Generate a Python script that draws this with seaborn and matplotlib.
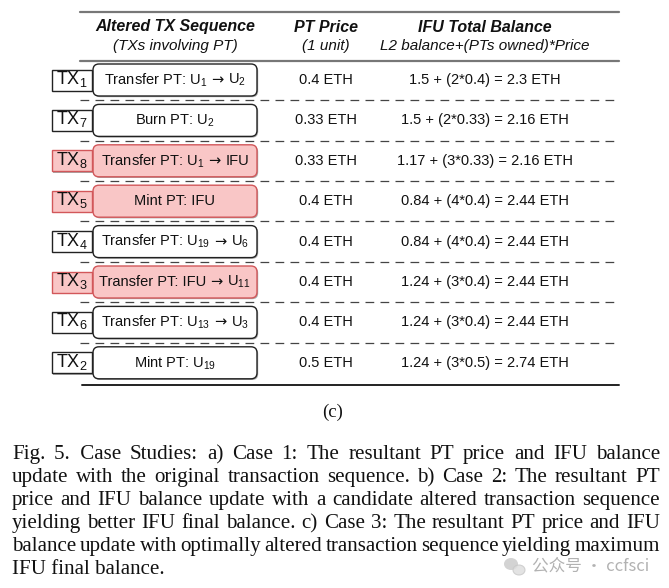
import matplotlib
matplotlib.use("Agg")
import matplotlib.pyplot as plt
from matplotlib.patches import FancyBboxPatch, Rectangle, Ellipse
import seaborn as sns

sns.set_theme(style="white")
plt.rcParams["font.family"] = ["Liberation Sans", "DejaVu Sans"]
plt.rcParams["mathtext.fontset"] = "custom"
plt.rcParams["mathtext.rm"] = "Liberation Sans"
plt.rcParams["mathtext.it"] = "Liberation Sans:italic"

# table data (case 3: optimally altered sequence)
tx_ids = [1, 7, 8, 5, 4, 3, 6, 2]
actions = ["Transfer PT: U$_{1}$ \u2192 U$_{2}$", "Burn PT: U$_{2}$",
           "Transfer PT: U$_{1}$ \u2192 IFU", "Mint PT: IFU",
           "Transfer PT: U$_{19}$ \u2192 U$_{6}$", "Transfer PT: IFU \u2192 U$_{11}$",
           "Transfer PT: U$_{13}$ \u2192 U$_{3}$", "Mint PT: U$_{19}$"]
involves_ifu = [False, False, True, True, False, True, False, False]
pt_price = ["0.4", "0.33", "0.33", "0.4", "0.4", "0.4", "0.4", "0.5"]
l2_balance = ["1.5", "1.5", "1.17", "0.84", "0.84", "1.24", "1.24", "1.24"]
pts_owned = [2, 2, 3, 4, 4, 3, 3, 3]
total_balance = ["2.3", "2.16", "2.16", "2.44", "2.44", "2.44", "2.44", "2.74"]

headers = [("Altered TX Sequence", "(TXs involving PT)"),
           ("PT Price", "(1 unit)"),
           ("IFU Total Balance", "L2 balance+(PTs owned)*Price")]

caption_lines = [
    "Fig. 5.  Case Studies: a) Case 1: The resultant PT price and IFU balance",
    "update with the original transaction sequence. b) Case 2: The resultant PT",
    "price and IFU balance update with a candidate altered transaction sequence",
    "yielding better IFU final balance. c) Case 3: The resultant PT price and IFU",
    "balance update with optimally altered transaction sequence yielding maximum",
    "IFU final balance.",
]

pink_fill = "#f9c6c6"
pink_edge = "#d2575a"
ink = "#111111"

fig = plt.figure(figsize=(6.69, 5.88), dpi=100)
ax = fig.add_axes([0, 0, 1, 1])
ax.set_xlim(0, 669)
ax.set_ylim(588, 0)
ax.axis("off")
renderer = fig.canvas.get_renderer()


def text_width(t):
    return t.get_window_extent(renderer).width


def centered_pieces(cx, y, pieces, size):
    # pieces: list of (string, family, gap after); laid side by side, centred on cx
    objs = [ax.text(0, y, s, ha="left", va="center", fontsize=size, family=fam,
                    color=ink, zorder=3) for s, fam, _ in pieces]
    widths = [text_width(o) + g for o, (_, _, g) in zip(objs, pieces)]
    x = cx - sum(widths) / 2
    for o, w in zip(objs, widths):
        o.set_x(x)
        x += w


x_left, x_right = 80, 619
col_x = [175, 326, 485]
row0, step = 80, 40.4
sans = ["Liberation Sans", "DejaVu Sans"]

# header
for cx, (h1, h2) in zip(col_x, headers):
    ax.text(cx, 27, h1, ha="center", va="center", fontsize=11.5,
            fontweight="bold", fontstyle="italic", color=ink)
    ax.text(cx, 46, h2, ha="center", va="center", fontsize=11,
            fontstyle="italic", color=ink)
ax.plot([x_left, x_right], [12, 12], color="#777777", lw=1.6)
ax.plot([x_left, x_right], [61, 61], color="#777777", lw=1.6)

# rows
for i, tx in enumerate(tx_ids):
    yc = row0 + i * step
    hl = involves_ifu[i]
    fc = pink_fill if hl else "white"
    ec = pink_edge if hl else "#222222"
    # rounded action box with small shadow
    ax.add_patch(FancyBboxPatch((94.2, yc - 14.8), 164, 32,
                                boxstyle="round,pad=0,rounding_size=6",
                                fc="#aaaaaa", ec="none", zorder=1))
    ax.add_patch(FancyBboxPatch((93, yc - 16), 164, 32,
                                boxstyle="round,pad=0,rounding_size=6",
                                fc=fc, ec=ec, lw=1.0, zorder=2))
    parts = [p.strip() for p in actions[i].split("\u2192")]
    if len(parts) == 2:
        pieces = [(parts[0], sans, 4), ("\u2192", ["DejaVu Sans"], 5),
                  (parts[1], sans, 0)]
    else:
        pieces = [(parts[0], sans, 0)]
    centered_pieces(175, yc, pieces, 10.5)
    # TX label box
    ax.add_patch(Rectangle((53.2, yc - 9.3), 40, 21, fc="#aaaaaa", ec="none", zorder=1))
    ax.add_patch(Rectangle((52, yc - 10.5), 40, 21, fc=fc, ec=ec, lw=1.0, zorder=2))
    ax.text(72, yc - 1, f"TX$_{{{tx}}}$", ha="center", va="center", fontsize=13,
            color=ink, zorder=3)
    ax.text(col_x[1], yc, f"{pt_price[i]} ETH", ha="center", va="center",
            fontsize=10.5, color=ink)
    ax.text(col_x[2], yc,
            f"{l2_balance[i]} + ({pts_owned[i]}*{pt_price[i]}) = {total_balance[i]} ETH",
            ha="center", va="center", fontsize=10.5, color=ink)
    if i < len(tx_ids) - 1:
        ax.plot([x_left, x_right], [yc + step / 2] * 2, color="#444444", lw=0.9,
                dashes=(7, 5))
ax.plot([x_left + 2, x_right], [385, 385], color="#222222", lw=1.4)

# sub-figure label and caption
serif = ["Liberation Serif", "DejaVu Serif"]
ax.text(333, 412, "(c)", ha="center", va="center", fontsize=13.5, family=serif,
        color=ink)

cap_left, cap_right = 12, 660
span = cap_right - cap_left
# largest size at which every justified line keeps a word gap of >= 0.17 em
sizes = []
for line in caption_lines[:-1]:
    words = line.replace("5.  ", "5.\u2002").split(" ")
    probe = [ax.text(0, 0, w, fontsize=10, family=serif) for w in words]
    w10 = sum(text_width(p) for p in probe) / 10
    for p in probe:
        p.remove()
    sizes.append(span / (w10 + 0.17 * 100 / 72 * (len(words) - 1)))
cap_size = min(sizes)

base0, line_step = 459, 23
for k, line in enumerate(caption_lines):
    yb = base0 + k * line_step
    if k == len(caption_lines) - 1:
        ax.text(cap_left, yb, line, ha="left", va="baseline", fontsize=cap_size,
                family=serif, color=ink)
        continue
    words = line.replace("5.  ", "5.\u2002").split(" ")
    objs = [ax.text(0, yb, w, ha="left", va="baseline", fontsize=cap_size,
                    family=serif, color=ink) for w in words]
    widths = [text_width(o) for o in objs]
    gap = (span - sum(widths)) / (len(words) - 1)
    x = cap_left
    for o, w in zip(objs, widths):
        o.set_x(x)
        x += w + gap

# watermark
ax.add_patch(Ellipse((511, 564), 14, 12, fc="#c8c8c8", ec="none", alpha=0.8))
ax.add_patch(Ellipse((519, 570), 12, 10, fc="#dcdcdc", ec="#c8c8c8", lw=0.8, alpha=0.8))
ax.text(591, 566, "\u516c\u4f17\u53f7 \u00b7 ccfsci", ha="center", va="center",
        fontsize=12, family=["Noto Sans CJK SC", "DejaVu Sans"], color="#aaaaaa",
        alpha=0.9)

fig.savefig("out.png", dpi=100)
